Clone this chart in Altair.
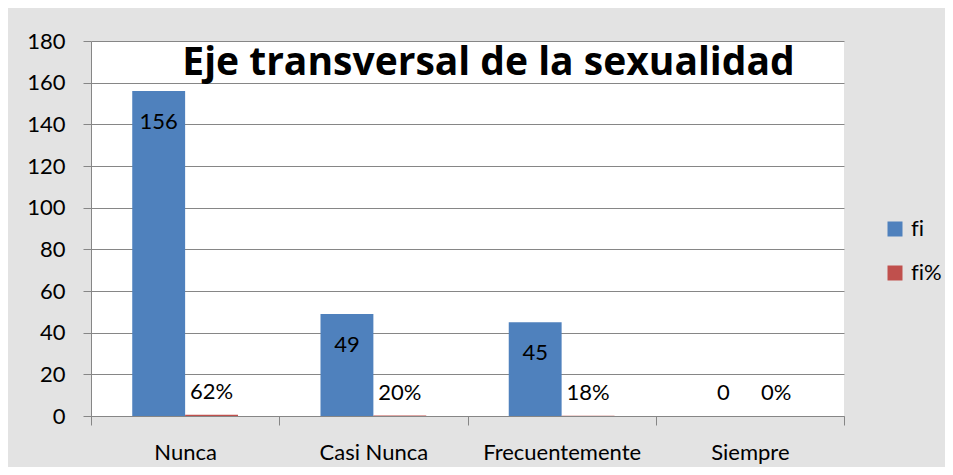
import altair as alt
import pandas as pd

categories = ["Nunca", "Casi Nunca", "Frecuentemente", "Siempre"]
series_names = ["fi", "fi%"]
fi_values = [156, 49, 45, 0]
fi_pct_values = [0.62, 0.20, 0.18, 0.0]
fi_labels = ["156", "49", "45", "0"]
pct_labels = ["62%", "20%", "18%", "0%"]
y_ticks = [0, 20, 40, 60, 80, 100, 120, 140, 160, 180]
title_text = "Eje transversal de la sexualidad"
colors = ["#4F81BD", "#C0504D"]

rows = []
for i, c in enumerate(categories):
    rows.append({"cat": c, "series": "fi", "value": fi_values[i],
                 "label": fi_labels[i], "inside": fi_values[i] > 0})
    rows.append({"cat": c, "series": "fi%", "value": fi_pct_values[i],
                 "label": pct_labels[i], "inside": False})
df = pd.DataFrame(rows)

FONT = "Lato"
GRID = "#868686"

x_enc = alt.X("cat:N", sort=categories,
              scale=alt.Scale(paddingInner=0, paddingOuter=0),
              axis=alt.Axis(title=None, labelAngle=0, tickBand="extent",
                            tickSize=9, labelPadding=17, domainColor=GRID,
                            tickColor=GRID))
xo_enc = alt.XOffset("series:N", sort=series_names,
                     scale=alt.Scale(paddingOuter=0.78, paddingInner=0))
y_enc = alt.Y("value:Q", scale=alt.Scale(domain=[0, 180], nice=False),
              axis=alt.Axis(title=None, values=y_ticks, tickSize=8,
                            labelPadding=18, grid=True, gridColor=GRID,
                            domainColor=GRID, tickColor=GRID))

base = alt.Chart(df)

bars = base.mark_bar().encode(
    x=x_enc, xOffset=xo_enc, y=y_enc,
    color=alt.Color("series:N", sort=series_names,
                    scale=alt.Scale(domain=series_names, range=colors),
                    legend=alt.Legend(title=None, orient="none", legendX=793,
                                      legendY=177, symbolType="square",
                                      symbolSize=225, symbolStrokeWidth=0,
                                      labelFont=FONT, labelFontSize=22,
                                      labelColor="black", labelOffset=5,
                                      rowPadding=22,
                                      labelExpr="replace(datum.label, 'fi', 'f\u200ci')")),
)

inside = base.transform_filter("datum.inside").mark_text(
    font=FONT, fontSize=22, color="black", baseline="middle", dy=31
).encode(x=x_enc, xOffset=xo_enc, y=y_enc, text="label:N")

outside = base.transform_filter("!datum.inside").mark_text(
    font=FONT, fontSize=22, color="black", baseline="middle", dy=-23
).encode(x=x_enc, xOffset=xo_enc, y=y_enc, text="label:N")

chart = alt.layer(bars, inside, outside).properties(
    width=753, height=375,
    autosize=alt.AutoSizeParams(type="none"),
    padding={"left": 83, "top": 33, "right": 101, "bottom": 51},
    background="#e3e3e3",
    title=alt.TitleParams(text=title_text, font="Open Sans", fontSize=39,
                          fontWeight="bold", color="black", anchor="middle",
                          frame="group", baseline="alphabetic", offset=-84,
                          dx=21),
).configure_axis(
    labelFont=FONT, labelFontSize=22, labelColor="black"
).configure_view(
    fill="white", strokeWidth=0
)

chart.save("out.html", embed_options={"renderer": "svg", "actions": False})
